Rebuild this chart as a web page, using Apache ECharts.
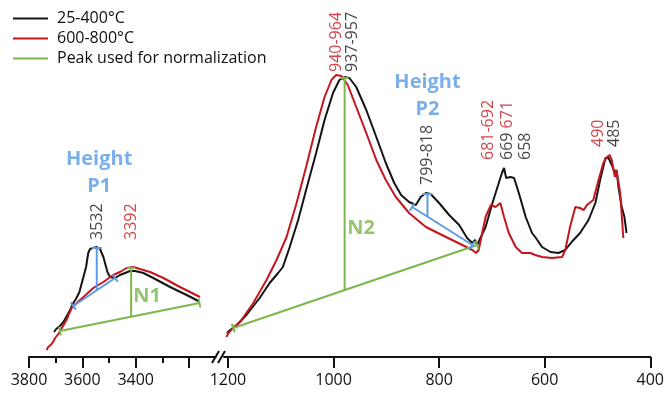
<!DOCTYPE html>
<html><head><meta charset="utf-8">
<script src="https://cdn.jsdelivr.net/npm/echarts@6/dist/echarts.min.js"></script>
<style>html,body{margin:0;padding:0;background:#fff}#c{width:667px;height:395px}</style>
</head><body><div id="c"></div>
<script>
// ---------- data (wavenumber cm-1, absorbance a.u.) ----------
const legendNames = ['25-400°C', '600-800°C', 'Peak used for normalization'];
const highTicks = [3800, 3600, 3400, 3200];
const highMinorTicks = [3700, 3500, 3300];
const highTickLabels = [3800, 3600, 3400];
const lowTicks = [1200, 1000, 800, 600, 400];
const lowTickLabels = [1200, 1000, 800, 600, 400];

const blackHigh = [[3706,25],[3698,28],[3684,31],[3671,35],[3658,41],[3646,47],[3634,54],[3624,58],[3611,65],[3599,77],[3586,90],[3578,104],[3571,108],[3561,109],[3546,110],[3534,108],[3521,100],[3506,85],[3496,80],[3477,79],[3459,82],[3421,86],[3402,86],[3371,84],[3334,79],[3271,70],[3209,62],[3165,56]];
const redHigh = [[3734,7],[3728,10],[3722,9],[3715,13],[3708,16],[3702,19],[3696,20],[3690,23],[3677,29],[3668,33],[3659,37],[3650,43],[3640,49],[3630,52],[3621,54],[3596,60],[3559,69],[3521,75],[3484,82],[3459,85],[3434,89],[3409,90],[3384,88],[3346,85],[3296,79],[3234,70],[3159,60]];
const blackLow = [[1202,24],[1196,27],[1187,30],[1165,42],[1140,59],[1121,74],[1105,84],[1096,90],[1083,110],[1067,137],[1052,167],[1033,204],[1017,237],[1001,264],[989,277],[979,280],[970,279],[957,270],[938,247],[919,220],[901,194],[885,174],[872,162],[857,155],[844,152],[835,160],[825,164],[816,163],[800,154],[781,142],[762,132],[747,119],[737,114],[732,117],[728,112],[725,114],[712,130],[699,154],[687,174],[681,184],[677,189],[673,179],[665,180],[658,179],[649,164],[636,140],[624,124],[618,120],[605,110],[589,105],[574,104],[561,107],[549,115],[533,124],[517,137],[504,154],[495,177],[485,199],[479,199],[473,192],[467,184],[464,187],[460,169],[454,150],[449,140],[445,124]];
const redLow = [[1203,20],[1199,24],[1191,29],[1177,35],[1152,54],[1127,77],[1108,97],[1089,120],[1070,154],[1052,190],[1033,230],[1017,260],[1004,277],[995,282],[985,281],[973,272],[957,250],[938,224],[919,197],[901,177],[882,160],[857,144],[825,130],[787,120],[756,112],[737,107],[730,104],[725,107],[718,125],[712,140],[702,152],[693,150],[684,154],[677,140],[668,124],[655,110],[643,104],[627,104],[618,102],[605,100],[586,99],[567,100],[561,107],[552,130],[542,150],[533,149],[526,147],[520,152],[508,157],[498,177],[489,194],[482,200],[477,202],[473,197],[467,180],[464,187],[457,164],[451,119]];

// normalization peaks (green) and heights (blue)
const n1Base = [[3684,26],[3161,54]];
const n1Height = [[3417,41],[3417,89]];
const n2Base = [[1190,29],[728,112]];
const n2Height = [[979,67],[979,279]];
const p1Base = [[3634,51],[3477,79]];
const p1Height = [[3546,67],[3546,109]];
const p2Base = [[851,150],[737,112]];
const p2Height = [[822,140],[822,163]];

// peak annotations
const peakLabelsHigh = [['3532','k',3544,117],['3392','r',3415,117]];
const peakLabelsLow = [['940-964','r',995,285],['937-957','k',964,285],['799-818','k',822,172],['681-692','r',706,197],['669|671','kr',671,197],['658','k',636,197],['490','r',498,210],['485','k',468,210]];
const titlesHigh = [['Height\nP1','b',3537,184],['N1','g',3357,61]];
const titlesLow = [['Height\nP2','b',822,261],['N2','g',948,129]];

// ---------- styles ----------
const FONT = '"Open Sans", "Noto Sans", sans-serif';
const C = {k:'#141414', r:'#c4161c', g:'#79b849', b:'#5a9be3'};

function baseItems(pts, rot) {
  return pts.map(p => ({value:p, symbol:'rect', symbolSize:[2,9], symbolRotate:rot}));
}
function heightItems(pts, cap) {
  return [{value:pts[0], symbol:'none'}, {value:pts[1], symbol:'rect', symbolSize:[cap,2], symbolRotate:0}];
}
function lineSeries(name, data, color, xi, yi, w) {
  return {type:'line', name:name, data:data, xAxisIndex:xi, yAxisIndex:yi, symbol:'rect', showSymbol:true,
    color:color, itemStyle:{color:color, borderWidth:0}, lineStyle:{color:color, width:w||2},
    silent:true, animation:false, z:3};
}
function curve(name, data, color, xi, yi) {
  const s = lineSeries(name, data, color, xi, yi, 2);
  s.symbol = 'none'; s.showSymbol = false; s.z = 2;
  return s;
}
function labelSeries(list, xi, yi, rotated) {
  return {type:'scatter', xAxisIndex:xi, yAxisIndex:yi, symbolSize:1, silent:true, animation:false, z:5,
    itemStyle:{color:'rgba(0,0,0,0)'},
    data:list.map(a => {
      const [t, c, x, y] = a;
      let label;
      if (rotated) {
        label = {show:true, position:'inside', rotate:90, align:'left', verticalAlign:'middle',
          fontFamily:FONT, fontSize:16, color:C[c[0]],
          formatter: c === 'kr' ? '{k|' + t.split('|')[0] + '} {r|' + t.split('|')[1] + '}' : t,
          rich:{k:{color:C.k, fontFamily:FONT, fontSize:16}, r:{color:C.r, fontFamily:FONT, fontSize:16}}};
      } else {
        label = {show:true, position:'inside', align:'center', verticalAlign:'middle', fontFamily:FONT,
          fontSize:20, fontWeight:'bold', lineHeight:27, color:C[c], formatter:t};
      }
      return {value:[x, y], label:label};
    })};
}

const axisBase = {
  position:'bottom',
  axisLine:{show:true, lineStyle:{color:'#111', width:2}},
  splitLine:{show:false},
  axisLabel:{show:true, color:'#111', fontFamily:FONT, fontSize:16, margin:15, formatter:v => String(v)},
  axisTick:{show:true, inside:false, length:11, lineStyle:{color:'#111', width:2}}
};

const option = {
  animation:false,
  backgroundColor:'#fff',
  legend:{
    orient:'vertical', left:8, top:5, itemWidth:35, itemHeight:2, itemGap:3,
    selectedMode:false,
    data:legendNames.map(n => ({name:n, icon:'rect'})),
    textStyle:{fontFamily:FONT, fontSize:16, color:'#111', lineHeight:17, padding:[0,0,0,4]}
  },
  grid:[
    {left:29, top:37, width:186.7, height:320},
    {left:224, top:37, width:428, height:320}
  ],
  xAxis:[
    Object.assign({}, axisBase, {type:'value', gridIndex:0, inverse:true, min:3100, max:3800,
      axisTick:Object.assign({}, axisBase.axisTick, {customValues:highTicks}),
      axisLabel:Object.assign({}, axisBase.axisLabel, {customValues:highTickLabels})}),
    {type:'value', gridIndex:0, position:'bottom', offset:0, inverse:true, min:3100, max:3800,
      axisLine:{show:false}, splitLine:{show:false}, axisLabel:{show:false},
      axisTick:{show:true, length:6, customValues:highMinorTicks, lineStyle:{color:'#111', width:2}}},
    Object.assign({}, axisBase, {type:'value', gridIndex:1, inverse:true, min:400, max:1207.5,
      axisTick:Object.assign({}, axisBase.axisTick, {customValues:lowTicks}),
      axisLabel:Object.assign({}, axisBase.axisLabel, {customValues:lowTickLabels})})
  ],
  yAxis:[
    {type:'value', gridIndex:0, min:0, max:320, show:false},
    {type:'value', gridIndex:1, min:0, max:320, show:false}
  ],
  graphic:[
    {type:'line', shape:{x1:212, y1:363, x2:219, y2:351}, style:{stroke:'#111', lineWidth:2}, z:10},
    {type:'line', shape:{x1:218, y1:363, x2:225, y2:351}, style:{stroke:'#111', lineWidth:2}, z:10}
  ],
  series:[
    curve(legendNames[0], blackHigh, C.k, 0, 0),
    curve(legendNames[1], redHigh, C.r, 0, 0),
    curve(legendNames[0], blackLow, C.k, 2, 1),
    curve(legendNames[1], redLow, C.r, 2, 1),
    lineSeries(legendNames[2], baseItems(n1Base, 11), C.g, 0, 0),
    lineSeries(legendNames[2], heightItems(n1Height, 8), C.g, 0, 0),
    lineSeries(legendNames[2], baseItems(n2Base, 19), C.g, 2, 1),
    lineSeries(legendNames[2], heightItems(n2Height, 8), C.g, 2, 1),
    lineSeries('P1', baseItems(p1Base, 34), C.b, 0, 0),
    lineSeries('P1h', heightItems(p1Height, 10), C.b, 0, 0),
    lineSeries('P2', baseItems(p2Base, -32), C.b, 2, 1),
    lineSeries('P2h', heightItems(p2Height, 10), C.b, 2, 1),
    labelSeries(peakLabelsHigh, 0, 0, true),
    labelSeries(peakLabelsLow, 2, 1, true),
    labelSeries(titlesHigh, 0, 0, false),
    labelSeries(titlesLow, 2, 1, false)
  ]
};
const chart = echarts.init(document.getElementById('c'), null, {renderer:'canvas'});
chart.setOption(option);
</script></body></html>
